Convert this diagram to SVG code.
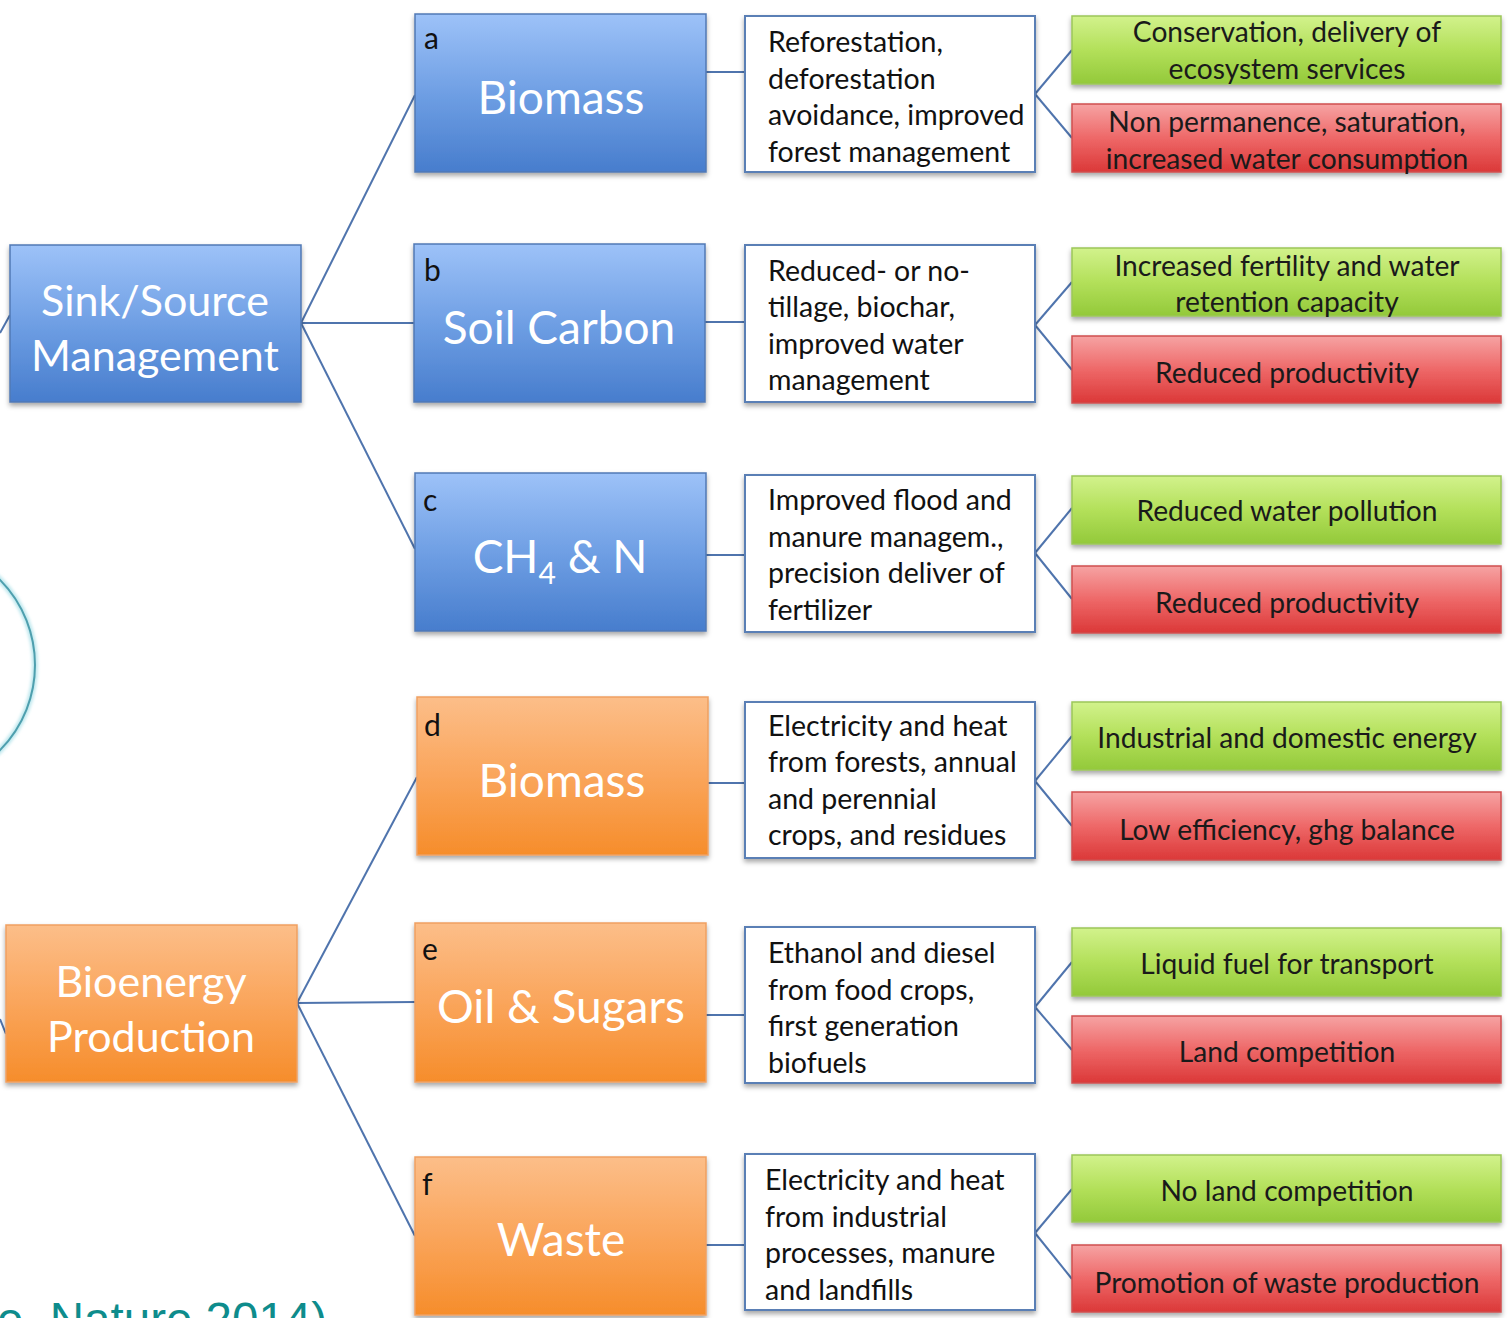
<svg xmlns="http://www.w3.org/2000/svg" width="1509" height="1318" viewBox="0 0 1509 1318">
<style>
.conn line{stroke:#4f74ad;stroke-width:2;fill:none}
.blue{fill:url(#gBlue);stroke:#5179b5;stroke-width:1.5}
.orange{fill:url(#gOrange);stroke:#efa061;stroke-width:1.5}
.white{fill:#ffffff;stroke:#5a7fb5;stroke-width:2}
.green{fill:url(#gGreen);stroke:#9cc65a;stroke-width:1.5}
.red{fill:url(#gRed);stroke:#cf5050;stroke-width:1.5}
text{font-family:Lato,"Open Sans","Liberation Sans",sans-serif}
.big{fill:#ffffff;font-size:43px;text-anchor:middle}
.mid{fill:#ffffff;font-size:46px;text-anchor:middle}
.lab{fill:#111111;font-size:30px}
.desc{fill:#111111;font-size:28.5px}
.out{fill:#1a1a1a;font-size:28.2px;text-anchor:middle}
.cite{fill:#0e8c8c;font-size:47.5px;font-family:"Liberation Sans",Arial,sans-serif}
</style>
<defs>
<linearGradient id="gBlue" x1="0" y1="0" x2="0" y2="1">
<stop offset="0" stop-color="#9dc2f8"/><stop offset="0.5" stop-color="#6f9fe4"/><stop offset="1" stop-color="#477dcd"/>
</linearGradient>
<linearGradient id="gOrange" x1="0" y1="0" x2="0" y2="1">
<stop offset="0" stop-color="#fcbe89"/><stop offset="0.5" stop-color="#faa55b"/><stop offset="1" stop-color="#f68d2b"/>
</linearGradient>
<linearGradient id="gGreen" x1="0" y1="0" x2="0" y2="1">
<stop offset="0" stop-color="#d2f28c"/><stop offset="0.5" stop-color="#b3e05a"/><stop offset="1" stop-color="#93c93a"/>
</linearGradient>
<linearGradient id="gRed" x1="0" y1="0" x2="0" y2="1">
<stop offset="0" stop-color="#f6a3a3"/><stop offset="0.5" stop-color="#ee6868"/><stop offset="1" stop-color="#db3838"/>
</linearGradient>
<filter id="sh" x="-10%" y="-10%" width="120%" height="130%">
<feDropShadow dx="0" dy="3" stdDeviation="2.5" flood-color="#000" flood-opacity="0.35"/>
</filter>
<filter id="glow" x="-20%" y="-20%" width="140%" height="140%">
<feGaussianBlur stdDeviation="1.5"/>
</filter>
</defs>

<g id="circle">
<circle cx="-86" cy="665" r="121" fill="none" stroke="#bfe8ee" stroke-width="6" filter="url(#glow)"/>
<circle cx="-86" cy="665" r="121" fill="none" stroke="#4e9fae" stroke-width="2"/>
</g>

<g class="conn" id="connectors">
<line x1="0" y1="333" x2="10" y2="315"/>
<line x1="0" y1="1019" x2="6" y2="1034"/>
<line x1="301" y1="323" x2="415" y2="95"/>
<line x1="301" y1="323" x2="414" y2="323"/>
<line x1="301" y1="323" x2="415" y2="549"/>
<line x1="297" y1="1003" x2="417" y2="777"/>
<line x1="297" y1="1003" x2="415" y2="1002"/>
<line x1="297" y1="1003" x2="415" y2="1236"/>
<line x1="706" y1="72" x2="745" y2="72"/>
<line x1="705" y1="322" x2="745" y2="322"/>
<line x1="706" y1="555" x2="745" y2="555"/>
<line x1="708" y1="783" x2="745" y2="783"/>
<line x1="706" y1="1015" x2="745" y2="1015"/>
<line x1="706" y1="1245" x2="745" y2="1245"/>
<line x1="1035" y1="94" x2="1072" y2="50"/>
<line x1="1035" y1="94" x2="1072" y2="138"/>
<line x1="1035" y1="325" x2="1072" y2="282"/>
<line x1="1035" y1="325" x2="1072" y2="370"/>
<line x1="1035" y1="553" x2="1072" y2="508"/>
<line x1="1035" y1="553" x2="1072" y2="599"/>
<line x1="1035" y1="781" x2="1072" y2="736"/>
<line x1="1035" y1="781" x2="1072" y2="826"/>
<line x1="1035" y1="1007" x2="1072" y2="962"/>
<line x1="1035" y1="1007" x2="1072" y2="1050"/>
<line x1="1035" y1="1233" x2="1072" y2="1189"/>
<line x1="1035" y1="1233" x2="1072" y2="1279"/>
</g>

<g id="sink-source">
<rect class="blue" x="10" y="245" width="291" height="157" filter="url(#sh)"/>
<text class="big" x="155" y="316">Sink/Source</text>
<text class="big" x="155" y="371">Management</text>
</g>
<g id="bioenergy">
<rect class="orange" x="6" y="925" width="291" height="157" filter="url(#sh)"/>
<text class="big" x="151" y="997">Bioenergy</text>
<text class="big" x="151" y="1052">Production</text>
</g>

<g id="a-biomass">
<rect class="blue" x="415" y="14" width="291" height="158" filter="url(#sh)"/>
<text class="lab" x="424" y="49">a</text>
<text class="mid" x="561" y="114">Biomass</text>
</g>
<g id="b-soil">
<rect class="blue" x="414" y="244" width="291" height="158" filter="url(#sh)"/>
<text class="lab" x="424" y="281">b</text>
<text class="mid" x="559" y="344">Soil Carbon</text>
</g>
<g id="c-ch4">
<rect class="blue" x="415" y="473" width="291" height="158" filter="url(#sh)"/>
<text class="lab" x="423" y="511">c</text>
<text class="mid" x="560" y="573">CH<tspan font-size="30" dy="11">4</tspan><tspan dy="-11"> &amp; N</tspan></text>
</g>
<g id="d-biomass">
<rect class="orange" x="417" y="697" width="291" height="158" filter="url(#sh)"/>
<text class="lab" x="424" y="736">d</text>
<text class="mid" x="562" y="797">Biomass</text>
</g>
<g id="e-oil">
<rect class="orange" x="415" y="923" width="291" height="159" filter="url(#sh)"/>
<text class="lab" x="422" y="960">e</text>
<text class="mid" x="561" y="1023">Oil &amp; Sugars</text>
</g>
<g id="f-waste">
<rect class="orange" x="415" y="1157" width="291" height="158" filter="url(#sh)"/>
<text class="lab" x="422" y="1195">f</text>
<text class="mid" x="561" y="1256">Waste</text>
</g>

<g id="a-desc">
<rect class="white" x="745" y="16" width="290" height="156" filter="url(#sh)"/>
<text class="desc" x="768" y="52">Reforestation,</text>
<text class="desc" x="768" y="89">deforestation</text>
<text class="desc" x="768" y="125">avoidance, improved</text>
<text class="desc" x="768" y="162">forest management</text>
</g>
<g id="b-desc">
<rect class="white" x="745" y="245" width="290" height="157" filter="url(#sh)"/>
<text class="desc" x="768" y="281">Reduced- or no-</text>
<text class="desc" x="768" y="317">tillage, biochar,</text>
<text class="desc" x="768" y="354">improved water</text>
<text class="desc" x="768" y="390">management</text>
</g>
<g id="c-desc">
<rect class="white" x="745" y="475" width="290" height="157" filter="url(#sh)"/>
<text class="desc" x="768" y="510">Improved flood and</text>
<text class="desc" x="768" y="547">manure managem.,</text>
<text class="desc" x="768" y="583">precision deliver of</text>
<text class="desc" x="768" y="620">fertilizer</text>
</g>
<g id="d-desc">
<rect class="white" x="745" y="702" width="290" height="156" filter="url(#sh)"/>
<text class="desc" x="768" y="736">Electricity and heat</text>
<text class="desc" x="768" y="772">from forests, annual</text>
<text class="desc" x="768" y="809">and perennial</text>
<text class="desc" x="768" y="845">crops, and residues</text>
</g>
<g id="e-desc">
<rect class="white" x="745" y="927" width="290" height="156" filter="url(#sh)"/>
<text class="desc" x="768" y="963">Ethanol and diesel</text>
<text class="desc" x="768" y="1000">from food crops,</text>
<text class="desc" x="768" y="1036">first generation</text>
<text class="desc" x="768" y="1073">biofuels</text>
</g>
<g id="f-desc">
<rect class="white" x="745" y="1154" width="290" height="156" filter="url(#sh)"/>
<text class="desc" x="765" y="1190">Electricity and heat</text>
<text class="desc" x="765" y="1227">from industrial</text>
<text class="desc" x="765" y="1263">processes, manure</text>
<text class="desc" x="765" y="1300">and landfills</text>
</g>

<g id="a-pro">
<rect class="green" x="1072" y="16" width="429" height="68" filter="url(#sh)"/>
<text class="out" x="1287" y="42">Conservation, delivery of</text>
<text class="out" x="1287" y="79">ecosystem services</text>
</g>
<g id="a-con">
<rect class="red" x="1072" y="104" width="429" height="68" filter="url(#sh)"/>
<text class="out" x="1287" y="132">Non permanence, saturation,</text>
<text class="out" x="1287" y="169">increased water consumption</text>
</g>
<g id="b-pro">
<rect class="green" x="1072" y="248" width="429" height="68" filter="url(#sh)"/>
<text class="out" x="1287" y="276">Increased fertility and water</text>
<text class="out" x="1287" y="312">retention capacity</text>
</g>
<g id="b-con">
<rect class="red" x="1072" y="336" width="429" height="67" filter="url(#sh)"/>
<text class="out" x="1287" y="383">Reduced productivity</text>
</g>
<g id="c-pro">
<rect class="green" x="1072" y="476" width="429" height="68" filter="url(#sh)"/>
<text class="out" x="1287" y="521">Reduced water pollution</text>
</g>
<g id="c-con">
<rect class="red" x="1072" y="566" width="429" height="67" filter="url(#sh)"/>
<text class="out" x="1287" y="613">Reduced productivity</text>
</g>
<g id="d-pro">
<rect class="green" x="1072" y="702" width="429" height="68" filter="url(#sh)"/>
<text class="out" x="1287" y="748">Industrial and domestic energy</text>
</g>
<g id="d-con">
<rect class="red" x="1072" y="792" width="429" height="68" filter="url(#sh)"/>
<text class="out" x="1287" y="840">Low efficiency, ghg balance</text>
</g>
<g id="e-pro">
<rect class="green" x="1072" y="928" width="429" height="68" filter="url(#sh)"/>
<text class="out" x="1287" y="974">Liquid fuel for transport</text>
</g>
<g id="e-con">
<rect class="red" x="1072" y="1016" width="429" height="67" filter="url(#sh)"/>
<text class="out" x="1287" y="1062">Land competition</text>
</g>
<g id="f-pro">
<rect class="green" x="1072" y="1155" width="429" height="67" filter="url(#sh)"/>
<text class="out" x="1287" y="1201">No land competition</text>
</g>
<g id="f-con">
<rect class="red" x="1072" y="1245" width="429" height="67" filter="url(#sh)"/>
<text class="out" x="1287" y="1293">Promotion of waste production</text>
</g>

<text class="cite" x="-3" y="1336">e, Nature 2014)</text>
</svg>
